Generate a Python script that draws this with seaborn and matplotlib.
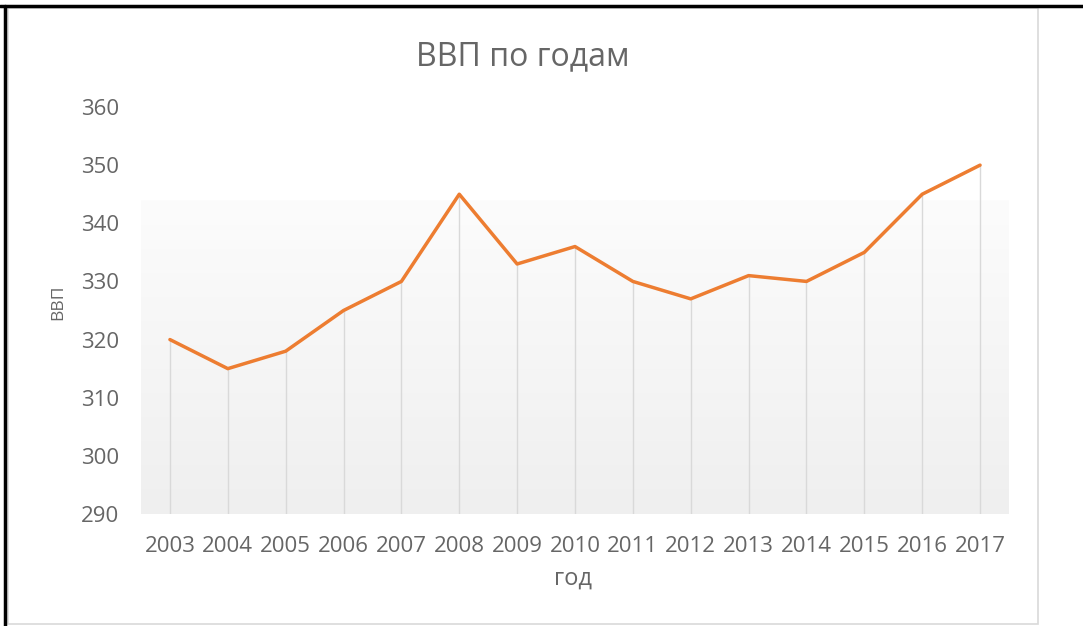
import numpy as np
import pandas as pd
import seaborn as sns
from matplotlib import pyplot as plt
from matplotlib.colors import LinearSegmentedColormap
from matplotlib.patches import Rectangle
from matplotlib.lines import Line2D

years = ["2003", "2004", "2005", "2006", "2007", "2008", "2009", "2010",
         "2011", "2012", "2013", "2014", "2015", "2016", "2017"]
gdp = [320, 315, 318, 325, 330, 345, 333, 336, 330, 327, 331, 330, 335, 345, 350]
y_ticks = [290, 300, 310, 320, 330, 340, 350, 360]

title = "ВВП по годам"
x_label = "год"
y_label = "ВВП"


def main():
    sns.set_theme(style="white")
    plt.rcParams["font.family"] = ["Open Sans", "DejaVu Sans"]

    df = pd.DataFrame({"year": years, "gdp": gdp})

    fig = plt.figure(figsize=(10.83, 6.26), dpi=100)
    W, H = 1083, 626
    text_color = "#666666"

    # chart frame (excel style) + black edge lines of the screenshot
    fig.patches.append(Rectangle((8 / W, 2 / H), 1030 / W, 616 / H,
                                 transform=fig.transFigure, fill=False,
                                 edgecolor="#d9d9d9", lw=1.2))
    fig.lines.append(Line2D([0, 1], [1 - 6 / H, 1 - 6 / H],
                            transform=fig.transFigure, color="black", lw=2.5))
    fig.lines.append(Line2D([4.5 / W, 4.5 / W], [0, 1 - 6 / H],
                            transform=fig.transFigure, color="black", lw=2.5))

    ax = fig.add_axes([141 / W, 112 / H, 868 / W, 407 / H])

    # gradient plot area
    grad = np.linspace(0, 1, 256).reshape(-1, 1)
    cmap = LinearSegmentedColormap.from_list("g", ["#fcfcfc", "#efefef"])
    ax.imshow(grad, extent=(-0.5, len(years) - 0.5, 290, 344), cmap=cmap,
              aspect="auto", origin="upper", zorder=0)

    # drop lines
    ax.vlines(range(len(years)), 290, df["gdp"], color="#d9d9d9", lw=1.0, zorder=1)

    sns.lineplot(data=df, x="year", y="gdp", color="#ED7D31", lw=2.5,
                 ax=ax, zorder=3, sort=False)

    ax.set_xlim(-0.5, len(years) - 0.5)
    ax.set_ylim(290, 360)
    ax.set_yticks(y_ticks)
    ax.tick_params(axis="both", length=0, labelsize=16, colors=text_color)
    ax.tick_params(axis="x", pad=16)
    ax.tick_params(axis="y", pad=16)
    for s in ax.spines.values():
        s.set_visible(False)
    ax.set_xlabel("")
    ax.set_ylabel("")

    fig.text(523 / W, 1 - 57 / H, title, ha="center", va="center",
             fontsize=23, color=text_color)
    fig.text(573 / W, 1 - 579 / H, x_label, ha="center", va="center",
             fontsize=17, color=text_color)
    fig.text(58 / W, 1 - 302 / H, y_label, ha="center", va="center",
             fontsize=12.5, color=text_color, rotation=90)

    fig.savefig("out.png", dpi=100, facecolor="white")


if __name__ == "__main__":
    main()
